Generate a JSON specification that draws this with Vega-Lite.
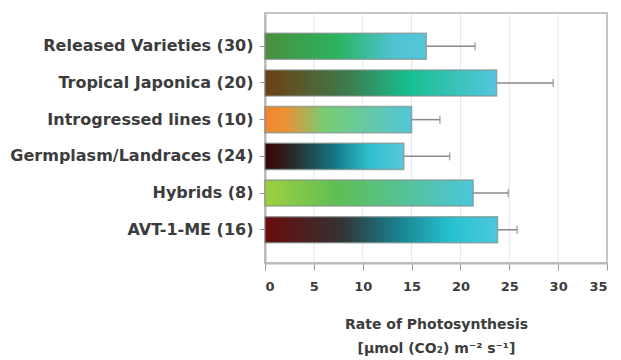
{
  "$schema": "https://vega.github.io/schema/vega-lite/v6.json",
  "width": 342,
  "height": 250,
  "autosize": {"type": "none"},
  "padding": {"left": 265, "top": 13, "right": 14, "bottom": 97},
  "background": "white",
  "config": {
    "font": "DejaVu Sans",
    "view": {"stroke": "#c8c2c2", "strokeWidth": 2},
    "axis": {"labelFont": "DejaVu Sans", "titleFont": "DejaVu Sans"}
  },
  "data": {
    "values": [
      {"group": "Released Varieties (30)", "rate": 16.5, "upper": 21.5},
      {"group": "Tropical Japonica (20)", "rate": 23.7, "upper": 29.5},
      {"group": "Introgressed lines (10)", "rate": 15.0, "upper": 17.9},
      {"group": "Germplasm/Landraces (24)", "rate": 14.2, "upper": 18.9},
      {"group": "Hybrids (8)", "rate": 21.3, "upper": 24.9},
      {"group": "AVT-1-ME (16)", "rate": 23.8, "upper": 25.8}
    ]
  },
  "encoding": {
    "y": {
      "field": "group",
      "type": "nominal",
      "sort": ["Released Varieties (30)", "Tropical Japonica (20)", "Introgressed lines (10)", "Germplasm/Landraces (24)", "Hybrids (8)", "AVT-1-ME (16)"],
      "scale": {"paddingInner": 0.29, "paddingOuter": 0.55},
      "axis": {
        "title": null,
        "labelFontSize": 16,
        "labelLimit": 400,
        "labelColor": "#3c3c3c",
        "labelFontWeight": "bold",
        "labelPadding": 6,
        "tickSize": 6,
        "tickColor": "#a09a9a",
        "domainColor": "#bdb6b6",
        "domainWidth": 2
      }
    }
  },
  "layer": [
    {
      "mark": {"type": "rule", "color": "#d8d4d4", "strokeWidth": 1, "opacity": 0.6},
      "data": {"values": [{"v": 5}, {"v": 10}, {"v": 15}, {"v": 20}, {"v": 25}, {"v": 30}]},
      "encoding": {
        "x": {"field": "v", "type": "quantitative"},
        "y": null
      }
    },
    {
      "transform": [{"filter": "datum.group === 'Released Varieties (30)'"}],
      "mark": {"type": "bar", "stroke": "#7f8e8c", "strokeOpacity": 0.7, "strokeWidth": 1.5, "fill": {"gradient": "linear", "x1": 0, "x2": 1, "y1": 0, "y2": 0, "stops": [
        {"offset": 0, "color": "#4a8f3c"}, {"offset": 0.45, "color": "#2bb45e"}, {"offset": 0.8, "color": "#4fc3d3"}, {"offset": 1, "color": "#55c8da"}]}},
      "encoding": {"x": {"field": "rate", "type": "quantitative"}}
    },
    {
      "transform": [{"filter": "datum.group === 'Tropical Japonica (20)'"}],
      "mark": {"type": "bar", "stroke": "#7f8e8c", "strokeOpacity": 0.7, "strokeWidth": 1.5, "fill": {"gradient": "linear", "x1": 0, "x2": 1, "y1": 0, "y2": 0, "stops": [
        {"offset": 0, "color": "#6e3f12"}, {"offset": 0.35, "color": "#3e7a4c"}, {"offset": 0.62, "color": "#17bf8e"}, {"offset": 1, "color": "#55c6de"}]}},
      "encoding": {"x": {"field": "rate", "type": "quantitative"}}
    },
    {
      "transform": [{"filter": "datum.group === 'Introgressed lines (10)'"}],
      "mark": {"type": "bar", "stroke": "#7f8e8c", "strokeOpacity": 0.7, "strokeWidth": 1.5, "fill": {"gradient": "linear", "x1": 0, "x2": 1, "y1": 0, "y2": 0, "stops": [
        {"offset": 0, "color": "#f2862a"}, {"offset": 0.15, "color": "#e99238"}, {"offset": 0.4, "color": "#7acc72"}, {"offset": 1, "color": "#52c6da"}]}},
      "encoding": {"x": {"field": "rate", "type": "quantitative"}}
    },
    {
      "transform": [{"filter": "datum.group === 'Germplasm/Landraces (24)'"}],
      "mark": {"type": "bar", "stroke": "#7f8e8c", "strokeOpacity": 0.7, "strokeWidth": 1.5, "fill": {"gradient": "linear", "x1": 0, "x2": 1, "y1": 0, "y2": 0, "stops": [
        {"offset": 0, "color": "#3a0303"}, {"offset": 0.2, "color": "#2a2a2a"}, {"offset": 0.5, "color": "#137886"}, {"offset": 0.75, "color": "#2fc0cf"}, {"offset": 1, "color": "#55c8da"}]}},
      "encoding": {"x": {"field": "rate", "type": "quantitative"}}
    },
    {
      "transform": [{"filter": "datum.group === 'Hybrids (8)'"}],
      "mark": {"type": "bar", "stroke": "#7f8e8c", "strokeOpacity": 0.7, "strokeWidth": 1.5, "fill": {"gradient": "linear", "x1": 0, "x2": 1, "y1": 0, "y2": 0, "stops": [
        {"offset": 0, "color": "#9fd040"}, {"offset": 0.35, "color": "#5ebe55"}, {"offset": 1, "color": "#4cc6dc"}]}},
      "encoding": {"x": {"field": "rate", "type": "quantitative"}}
    },
    {
      "transform": [{"filter": "datum.group === 'AVT-1-ME (16)'"}],
      "mark": {"type": "bar", "stroke": "#7f8e8c", "strokeOpacity": 0.7, "strokeWidth": 1.5, "fill": {"gradient": "linear", "x1": 0, "x2": 1, "y1": 0, "y2": 0, "stops": [
        {"offset": 0, "color": "#6a0b0b"}, {"offset": 0.33, "color": "#333333"}, {"offset": 0.55, "color": "#1a7b88"}, {"offset": 0.8, "color": "#26c2d0"}, {"offset": 1, "color": "#4cc8dc"}]}},
      "encoding": {"x": {"field": "rate", "type": "quantitative"}}
    },
    {
      "mark": {"type": "rule", "color": "#8f8888", "strokeWidth": 1.5},
      "encoding": {
        "x": {"field": "rate", "type": "quantitative"},
        "x2": {"field": "upper"}
      }
    },
    {
      "mark": {"type": "tick", "color": "#8f8888", "thickness": 1.5, "size": 8},
      "encoding": {
        "x": {
          "field": "upper",
          "type": "quantitative",
          "scale": {"domain": [0, 35]},
          "axis": {
            "values": [0, 5, 10, 15, 20, 25, 30, 35],
            "grid": false,
            "title": ["Rate of Photosynthesis", "[μmol (CO₂) m⁻² s⁻¹]"],
            "titleFontSize": 14,
            "titleFontWeight": "bold",
            "titleColor": "#3c3c3c",
            "titlePadding": 24,
            "titleLineHeight": 24,
            "labelFontSize": 13,
            "labelFontWeight": "bold",
            "labelColor": "#3c3c3c",
            "labelPadding": 10,
            "tickSize": 7,
            "tickColor": "#a09a9a",
            "domainColor": "#bdb6b6",
            "domainWidth": 2
          }
        }
      }
    }
  ]
}
